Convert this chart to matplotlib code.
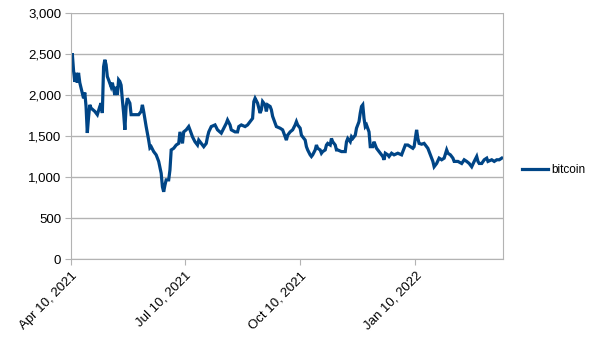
import numpy as np
import matplotlib.pyplot as plt
import matplotlib.dates as mdates

plt.rcParams['font.family'] = ['Liberation Sans', 'DejaVu Sans']

start = np.datetime64('2021-04-10')

# days since start, price
days = [0, 1, 2, 3, 4, 5, 6, 7, 9, 10, 11, 12, 13, 14, 15, 16, 19, 21, 23, 24,
        25, 26, 27, 28, 29, 30, 32, 33, 35, 36, 37, 38, 39, 40, 41, 42, 43, 44,
        45, 47, 48, 51, 54, 56, 57, 58, 60, 62, 63, 64, 66, 68, 70, 72, 73, 74,
        75, 76, 78, 79, 80, 82, 84, 86, 87, 89, 90, 92, 94, 95, 97, 99, 101,
        102, 104, 106, 108, 109, 110, 112, 115, 117, 120, 122, 124, 125, 127,
        128, 131, 133, 134, 136, 139, 141, 143, 145, 146, 147, 149, 150, 151,
        152, 153, 155, 156, 157, 159, 160, 161, 163, 164, 167, 169, 171, 172,
        173, 175, 177, 179, 180, 181, 183, 184, 185, 187, 188, 189, 191, 192,
        193, 195, 196, 197, 199, 200, 201, 203, 204, 205, 207, 208, 209, 211,
        212, 213, 216, 219, 220, 221, 223, 224, 225, 227, 228, 230, 231, 232,
        233, 234, 235, 236, 238, 239, 241, 242, 244, 246, 249, 250, 251, 253,
        254, 256, 258, 261, 264, 265, 267, 269, 271, 273, 274, 275, 276, 277,
        278, 280, 282, 285, 287, 289, 290, 292, 294, 296, 298, 300, 301, 303,
        305, 306, 309, 312, 314, 316, 318, 320, 322, 324, 325, 326, 328, 330,
        332, 333, 336, 338, 340, 342, 344]
bitcoin = [2380, 2510, 2300, 2160, 2270, 2150, 2270, 2150, 2025, 1960, 2030,
           1860, 1537, 1730, 1880, 1840, 1800, 1760, 1860, 1900, 1780, 2345,
           2430, 2370, 2225, 2185, 2100, 2150, 2000, 2100, 2000, 2185, 2165,
           2120, 1940, 1780, 1575, 1860, 1960, 1900, 1760, 1760, 1760, 1800,
           1880, 1800, 1615, 1450, 1355, 1370, 1310, 1270, 1190, 1045, 880,
           820, 900, 965, 965, 1085, 1330, 1350, 1390, 1410, 1550, 1410, 1550,
           1575, 1615, 1575, 1490, 1430, 1390, 1450, 1410, 1370, 1410, 1490,
           1550, 1615, 1635, 1575, 1535, 1595, 1655, 1695, 1635, 1575, 1550,
           1550, 1615, 1635, 1615, 1635, 1675, 1715, 1920, 1960, 1900, 1840,
           1780, 1820, 1920, 1880, 1800, 1880, 1860, 1820, 1740, 1655, 1615,
           1595, 1575, 1490, 1450, 1510, 1550, 1575, 1635, 1675, 1635, 1595,
           1510, 1490, 1450, 1370, 1330, 1270, 1250, 1270, 1330, 1390, 1350,
           1330, 1290, 1310, 1330, 1390, 1410, 1390, 1470, 1430, 1390, 1330,
           1330, 1310, 1310, 1430, 1470, 1430, 1490, 1470, 1510, 1595, 1675,
           1780, 1860, 1880, 1715, 1615, 1635, 1550, 1370, 1370, 1430, 1350,
           1310, 1250, 1210, 1290, 1270, 1250, 1290, 1270, 1290, 1270, 1310,
           1390, 1390, 1370, 1350, 1370, 1470, 1575, 1470, 1410, 1400, 1410,
           1350, 1270, 1190, 1125, 1165, 1230, 1210, 1230, 1330, 1290, 1270,
           1230, 1190, 1190, 1165, 1210, 1190, 1165, 1125, 1190, 1250, 1190,
           1165, 1165, 1210, 1230, 1190, 1210, 1190, 1210, 1210, 1230]

tick_dates = ['2021-04-10', '2021-07-10', '2021-10-10', '2022-01-10']

dates = start + np.array(days).astype('timedelta64[D]')

fig = plt.figure(figsize=(6.05, 3.4), dpi=100)
ax = fig.add_axes([0.1174, 0.2382, 0.714, 0.7236])

ax.plot(dates, bitcoin, color='#004586', linewidth=2.3, label='bitcoin',
        solid_joinstyle='miter')

ax.set_ylim(0, 3000)
ax.set_yticks(np.arange(0, 3001, 500))
ax.yaxis.set_major_formatter(plt.FuncFormatter(lambda v, p: f'{int(v):,}'))
ax.set_xlim(start, start + np.timedelta64(345, 'D'))
ax.set_xticks(np.array(tick_dates, dtype='datetime64[D]'))
ax.xaxis.set_major_formatter(mdates.DateFormatter('%b %d, %Y'))

ax.grid(axis='y', color='#b3b3b3', linewidth=1)
ax.set_axisbelow(True)
for s in ax.spines.values():
    s.set_color('#b3b3b3')
ax.spines['top'].set_visible(False)
ax.tick_params(axis='both', color='#b3b3b3', length=4, labelsize=9.5,
               labelcolor='black')
ax.tick_params(axis='y', pad=3)
plt.setp(ax.get_xticklabels(), rotation=45, ha='right', rotation_mode='anchor')

ax.legend(loc='center left', bbox_to_anchor=(1.02, 0.36), frameon=False,
          fontsize=8.5, handlelength=2.2, handletextpad=0.3)

fig.savefig('out.png', dpi=100)
